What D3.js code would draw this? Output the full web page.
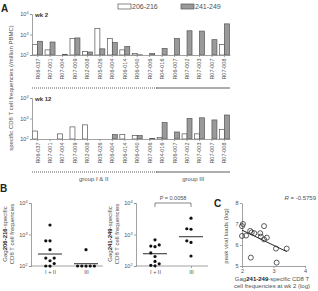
<!DOCTYPE html>
<html>
<head>
<meta charset="utf-8">
<script src="https://cdn.jsdelivr.net/npm/d3@7/dist/d3.min.js"></script>
<style>
    body { margin: 0; background: #fff; }
    svg { display: block; font-family: 'Liberation Sans', Arial, sans-serif; }
</style>
</head>
<body>
<div id="chart"></div>
<script>
// ---- data ----
const patients = ['R06-037', 'R07-001', 'R07-004', 'R07-009', 'R02-008', 'R05-026', 'R06-004', 'R06-014',
    'R06-040', 'R07-006', 'R04-016', 'R06-007', 'R07-002', 'R07-003', 'R07-007', 'R07-008'];
const groupOf = ['I + II', 'I + II', 'I + II', 'I + II', 'I + II', 'I + II', 'I + II', 'I + II',
    'I + II', 'I + II', 'III', 'III', 'III', 'III', 'III', 'III'];
const groupNames = ['I + II', 'III'];
const groupTitles = ['group I & II', 'group III'];
const epitopes = ['206-216', '241-249'];

// frequencies per million PBMC
const wk2_206 = [330, 178, 100, 630, 147, 2000, 630, 178, 120, 100, 100, 100, 100, 100, 100, 330];
const wk2_241 = [467, 430, 105, 680, 140, 200, 410, 260, 102, 117, 208, 630, 1520, 1470, 560, 3300];
const wk12_206 = [245, 100, 178, 390, 490, 100, 100, 165, 147, 100, 120, 100, 178, 178, 100, 295];
const wk12_241 = [100, 100, 100, 100, 100, 100, 165, 100, 147, 105, 630, 220, 1000, 1080, 850, 1480];

// horizontal summary lines in panel B
const b206Lines = [240, 118];
const b241Lines = [245, 850];
const pValue = 'P = 0.0058';

// panel C: log frequency vs peak viral load (log)
const cFreq = [2.03, 2.0, 2.0, 2.13, 2.26, 2.31, 2.39, 2.58, 2.6, 2.7, 2.79, 2.7, 2.28, 3.08, 3.42, 3.1];
const cViral = [7.0, 6.9, 6.43, 6.45, 6.67, 6.6, 6.56, 6.56, 6.4, 6.27, 6.35, 6.9, 5.4, 5.83, 5.83, 5.16];
const rText = '-0.5759';

const logTicks = [100, 1000, 10000];
const cXTicks = [2, 3, 4];
const cYTicks = [5, 6, 7, 8];

// ---- drawing ----
const W = 318, H = 291;
const AX = '#8a8a8a', TX = '#505050';
const svg = d3.select('#chart').append('svg').attr('width', W).attr('height', H);

function styleAxis(g, fs) {
    g.selectAll('.domain').attr('stroke', AX).attr('stroke-width', 0.8);
    g.selectAll('.tick line').attr('stroke', AX).attr('stroke-width', 0.8);
    g.selectAll('.tick text').attr('fill', TX).style('font-size', fs + 'px').attr('font-family', null);
}

function logAxis(g, scale) {
    g.call(d3.axisLeft(scale).tickValues(logTicks).tickSize(2).tickPadding(1.5).tickFormat(''));
    g.selectAll('.tick text').each(function (d) {
        const t = d3.select(this);
        t.append('tspan').text('10');
        t.append('tspan').attr('dy', -2.2).style('font-size', '3.8px').text(Math.log10(d));
    });
    styleAxis(g, 5.5);
}

function panelLetter(x, y, s) {
    svg.append('text').attr('x', x).attr('y', y).attr('font-weight', 'bold')
        .style('font-size', '10px').attr('fill', '#222').text(s);
}

// ---------- panel A ----------
const x = d3.scaleBand().domain(patients).range([32, 230]).paddingInner(0.2).paddingOuter(0.05);
const xe = d3.scaleBand().domain(epitopes).range([0, x.bandwidth()]);
const fills = { '206-216': '#ffffff', '241-249': '#9a9a9a' };

panelLetter(1, 12, 'A');

// legend
const legend = svg.append('g');
epitopes.forEach((e, i) => {
    const lx = 118 + i * 63;
    legend.append('rect').attr('x', lx).attr('y', 4).attr('width', 13).attr('height', 5)
        .attr('fill', fills[e]).attr('stroke', '#555').attr('stroke-width', 0.7);
    legend.append('text').attr('x', lx + 14).attr('y', 9).style('font-size', '7px')
        .attr('fill', TX).text(e);
});

const panels = [
    { title: 'wk 2', top: 14, bottom: 55, a: wk2_206, b: wk2_241, line: 88 },
    { title: 'wk 12', top: 98, bottom: 139, a: wk12_206, b: wk12_241, line: 172 }
];

panels.forEach(p => {
    const y = d3.scaleLog().domain([100, 10000]).range([p.bottom, p.top]);
    const g = svg.append('g');

    patients.forEach((pt, i) => {
        [[epitopes[0], p.a[i]], [epitopes[1], p.b[i]]].forEach(([e, v]) => {
            g.append('rect')
                .attr('x', x(pt) + xe(e))
                .attr('y', y(v))
                .attr('width', xe.bandwidth())
                .attr('height', y(100) - y(v))
                .attr('fill', fills[e])
                .attr('stroke', '#555')
                .attr('stroke-width', 0.7);
        });
    });

    const xa = g.append('g').attr('transform', `translate(0,${p.bottom})`)
        .call(d3.axisBottom(x).tickSize(2).tickSizeOuter(0));
    xa.selectAll('.tick text')
        .attr('transform', 'rotate(-90)')
        .attr('text-anchor', 'end')
        .attr('x', -3.5)
        .attr('y', 0)
        .attr('dy', '0.35em');
    styleAxis(xa, 5.5);

    const ya = g.append('g').attr('transform', `translate(${x.range()[0]},0)`);
    logAxis(ya, y);

    g.append('text').attr('x', x.range()[0] + 3).attr('y', p.top + 3)
        .attr('font-weight', 'bold').style('font-size', '6px').attr('fill', '#333').text(p.title);

    // group brackets
    const first3 = patients[groupOf.indexOf('III')];
    const last12 = patients[groupOf.indexOf('III') - 1];
    g.append('line').attr('x1', x.range()[0]).attr('x2', x(last12) + x.step())
        .attr('y1', p.line).attr('y2', p.line)
        .attr('stroke', '#333').attr('stroke-width', 0.8).attr('stroke-dasharray', '1,1');
    g.append('line').attr('x1', x(first3) - 1).attr('x2', x.range()[1])
        .attr('y1', p.line).attr('y2', p.line)
        .attr('stroke', '#333').attr('stroke-width', 0.8);
});

// group titles below the lower bracket
groupNames.forEach((gn, i) => {
    const members = patients.filter((p, j) => groupOf[j] === gn);
    const cx = (x(members[0]) + x(members[members.length - 1]) + x.bandwidth()) / 2;
    svg.append('text').attr('x', cx).attr('y', 181).attr('text-anchor', 'middle')
        .style('font-size', '6px').attr('fill', TX).text(groupTitles[i]);
});

// y axis title
svg.append('text')
    .attr('transform', 'translate(13,88) rotate(-90)')
    .attr('text-anchor', 'middle').style('font-size', '6px').attr('fill', TX)
    .text('specific CD8 T cell frequencies (/million PBMC)');

// ---------- panel B ----------
panelLetter(0, 192, 'B');

function swarm(vals, y, cx, d) {
    const placed = [];
    vals.map(v => ({ v, py: y(v) })).sort((a, b) => b.py - a.py).forEach(o => {
        const offs = [0];
        for (let k = 1; k < 8; k++) { offs.push(-k * d / 2, k * d / 2); }
        for (const off of offs) {
            const px = cx + off;
            if (placed.every(q => Math.hypot(q.px - px, q.py - o.py) >= d - 0.01)) {
                placed.push({ px, py: o.py, v: o.v });
                break;
            }
        }
    });
    return placed;
}

function panelB(opt) {
    const y = d3.scaleLog().domain([100, 10000]).range([266, 203]);
    const gx = d3.scalePoint().domain(groupNames).range([opt.x0 + 19, opt.x0 + 55]);
    const g = svg.append('g');

    const xa = g.append('g').attr('transform', 'translate(0,266)')
        .call(d3.axisBottom(gx).tickSize(2).tickSizeOuter(0).tickPadding(2));
    xa.select('.domain').attr('d', `M${opt.x0},0H${opt.x0 + 72}`);
    styleAxis(xa, 5.5);

    const ya = g.append('g').attr('transform', `translate(${opt.x0},0)`);
    logAxis(ya, y);

    groupNames.forEach((gn, i) => {
        const vals = opt.vals.filter((v, j) => groupOf[j] === gn);
        swarm(vals, y, gx(gn), 4.2).forEach(d => {
            g.append('circle').attr('cx', d.px).attr('cy', d.py).attr('r', 1.6).attr('fill', '#111');
        });
        g.append('line').attr('x1', gx(gn) - 12).attr('x2', gx(gn) + 12)
            .attr('y1', y(opt.lines[i])).attr('y2', y(opt.lines[i]))
            .attr('stroke', '#111').attr('stroke-width', 0.9);
    });

    const t = g.append('text')
        .attr('transform', `translate(${opt.x0 - 24},234) rotate(-90)`)
        .attr('text-anchor', 'middle').style('font-size', '6px').attr('fill', TX);
    t.append('tspan').text('Gag');
    t.append('tspan').attr('font-weight', 'bold').attr('fill', '#222').text(opt.ep);
    t.append('tspan').text('-specific');
    g.append('text')
        .attr('transform', `translate(${opt.x0 - 17},234) rotate(-90)`)
        .attr('text-anchor', 'middle').style('font-size', '6px').attr('fill', TX)
        .text('CD8 T cell frequencies');

    if (opt.p) {
        const x1 = gx(groupNames[0]), x2 = gx(groupNames[1]);
        g.append('path').attr('d', `M${x1},207V203H${x2}V207`)
            .attr('fill', 'none').attr('stroke', '#555').attr('stroke-width', 0.7);
        g.append('text').attr('x', (x1 + x2) / 2).attr('y', 200).attr('text-anchor', 'middle')
            .style('font-size', '5.5px').attr('fill', TX).text(opt.p);
    }
}

panelB({ x0: 31, vals: wk2_206, lines: b206Lines, ep: '206-216' });
panelB({ x0: 136, vals: wk2_241, lines: b241Lines, ep: '241-249', p: pValue });

// ---------- panel C ----------
panelLetter(214, 207, 'C');
const cx = d3.scaleLinear().domain([2, 4]).range([242, 305]);
const cy = d3.scaleLinear().domain([5, 8]).range([266, 203]);
const gc = svg.append('g');

const cxa = gc.append('g').attr('transform', 'translate(0,266)')
    .call(d3.axisBottom(cx).tickValues(cXTicks).tickFormat(d3.format('d'))
        .tickSize(2).tickSizeOuter(0).tickPadding(1.5));
styleAxis(cxa, 5.5);
const cya = gc.append('g').attr('transform', 'translate(242,0)')
    .call(d3.axisLeft(cy).tickValues(cYTicks).tickFormat(d3.format('d'))
        .tickSize(2).tickSizeOuter(0).tickPadding(1.5));
styleAxis(cya, 5.5);

// least squares fit
const mx = d3.mean(cFreq), my = d3.mean(cViral);
const slope = d3.sum(cFreq, (v, i) => (v - mx) * (cViral[i] - my)) / d3.sum(cFreq, v => (v - mx) ** 2);
const icpt = my - slope * mx;
const fx = d3.extent(cFreq);
gc.append('line')
    .attr('x1', cx(fx[0])).attr('y1', cy(icpt + slope * fx[0]))
    .attr('x2', cx(fx[1])).attr('y2', cy(icpt + slope * fx[1]))
    .attr('stroke', '#222').attr('stroke-width', 1);

cFreq.forEach((v, i) => {
    gc.append('circle').attr('cx', cx(v)).attr('cy', cy(cViral[i])).attr('r', 2.5)
        .attr('fill', 'none').attr('stroke', '#333').attr('stroke-width', 0.8);
});

const rt = gc.append('text').attr('x', 316).attr('y', 200).attr('text-anchor', 'end')
    .style('font-size', '6px').attr('fill', TX);
rt.append('tspan').attr('font-style', 'italic').text('R');
rt.append('tspan').text(' = ' + rText);

gc.append('text').attr('transform', 'translate(228,236) rotate(-90)')
    .attr('text-anchor', 'middle').style('font-size', '6px').attr('fill', TX)
    .text('peak viral loads (log)');

const xl = gc.append('text').attr('x', 272).attr('y', 281).attr('text-anchor', 'middle')
    .style('font-size', '6px').attr('fill', TX);
xl.append('tspan').text('Gag');
xl.append('tspan').attr('font-weight', 'bold').attr('fill', '#222').text('241-249');
xl.append('tspan').text('-specific CD8 T');
gc.append('text').attr('x', 272).attr('y', 288).attr('text-anchor', 'middle')
    .style('font-size', '6px').attr('fill', TX).text('cell frequencies at wk 2 (log)');
</script>
</body>
</html>
